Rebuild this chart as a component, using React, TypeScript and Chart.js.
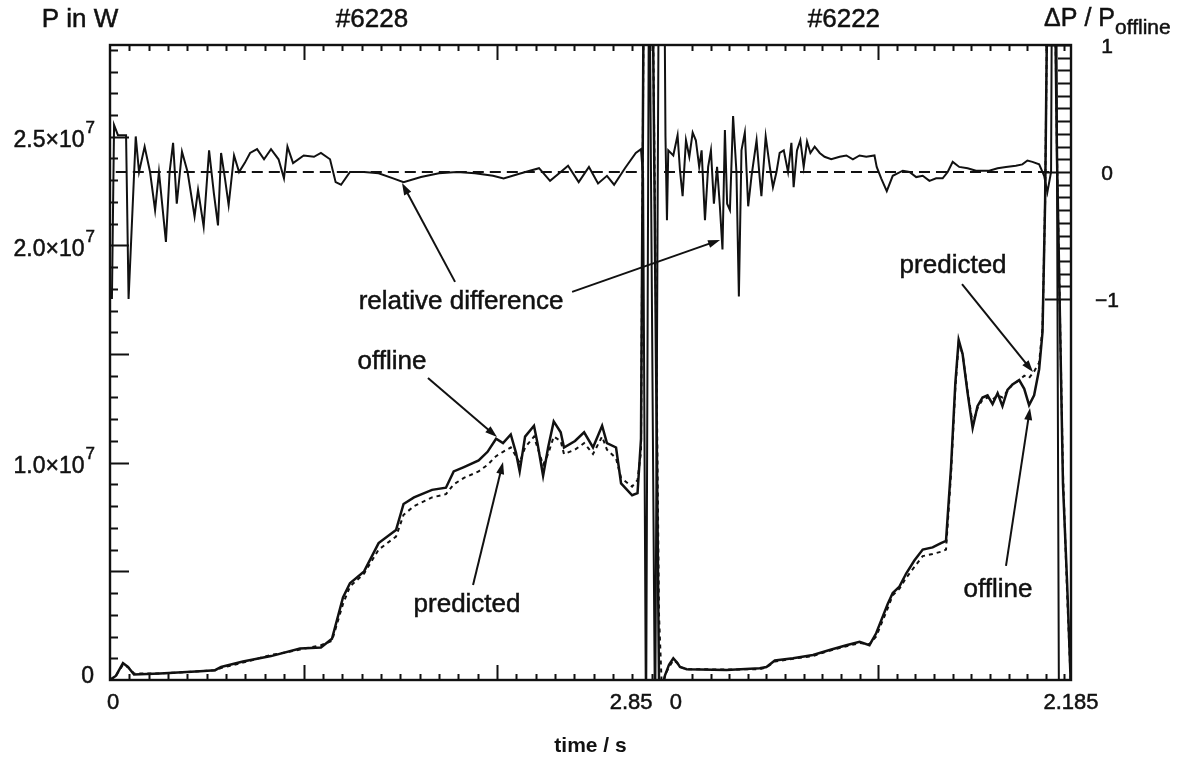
import React, { useEffect, useRef } from "react";
import { Chart, registerables } from "chart.js";

Chart.register(...registerables);

// ---------- data: shot #6228 (left panel), time in s, power in W ----------
const LEFT_TIME = [0, 0.031, 0.067, 0.093, 0.124, 0.258, 0.465, 0.543, 0.574, 0.687, 0.832, 0.982, 1.09, 1.147, 1.204, 1.24, 1.313, 1.388, 1.478, 1.517, 1.571, 1.664, 1.736, 1.776, 1.829, 1.905, 1.951, 1.995, 2.031, 2.071, 2.098, 2.117, 2.145, 2.191, 2.209, 2.238, 2.264, 2.293, 2.329, 2.346, 2.403, 2.45, 2.496, 2.543, 2.568, 2.615, 2.641, 2.698, 2.726, 2.744, 2.76, 2.801, 2.837, 2.85];
const LEFT_OFFLINE = [0, 0.02e7, 0.078e7, 0.06e7, 0.025e7, 0.03e7, 0.04e7, 0.045e7, 0.06e7, 0.085e7, 0.11e7, 0.145e7, 0.15e7, 0.19e7, 0.38e7, 0.445e7, 0.5e7, 0.63e7, 0.69e7, 0.81e7, 0.84e7, 0.875e7, 0.885e7, 0.96e7, 0.98e7, 1.01e7, 1.05e7, 1.11e7, 1.09e7, 1.13e7, 1.045e7, 0.96e7, 1.12e7, 1.17e7, 1.09e7, 0.94e7, 1.07e7, 1.19e7, 1.14e7, 1.07e7, 1.1e7, 1.14e7, 1.07e7, 1.17e7, 1.09e7, 1.07e7, 0.905e7, 0.85e7, 0.86e7, 1.11e7, 3.5e7, 3.5e7, 0, 0];
const LEFT_PREDICTED = [0, 0.02e7, 0.07e7, 0.06e7, 0.03e7, 0.03e7, 0.04e7, 0.045e7, 0.055e7, 0.08e7, 0.115e7, 0.14e7, 0.16e7, 0.18e7, 0.35e7, 0.43e7, 0.49e7, 0.6e7, 0.66e7, 0.76e7, 0.8e7, 0.84e7, 0.855e7, 0.9e7, 0.93e7, 0.96e7, 0.99e7, 1.03e7, 1.05e7, 1.07e7, 1.03e7, 1.0e7, 1.07e7, 1.12e7, 1.07e7, 0.99e7, 1.04e7, 1.12e7, 1.1e7, 1.04e7, 1.06e7, 1.09e7, 1.04e7, 1.12e7, 1.06e7, 1.02e7, 0.93e7, 0.89e7, 0.92e7, 1.05e7, 3.5e7, 3.5e7, 0.3e7, 0];
const LEFT_REL_TIME = [0.01, 0.021, 0.041, 0.083, 0.096, 0.133, 0.15, 0.179, 0.207, 0.233, 0.253, 0.289, 0.308, 0.326, 0.345, 0.372, 0.401, 0.437, 0.455, 0.484, 0.512, 0.537, 0.558, 0.574, 0.594, 0.613, 0.641, 0.667, 0.696, 0.724, 0.76, 0.796, 0.832, 0.871, 0.899, 0.917, 0.946, 1.001, 1.054, 1.09, 1.137, 1.166, 1.194, 1.24, 1.313, 1.388, 1.463, 1.517, 1.607, 1.7, 1.793, 1.886, 1.979, 2.034, 2.124, 2.217, 2.274, 2.329, 2.367, 2.422, 2.475, 2.522, 2.568, 2.605, 2.661, 2.717, 2.744, 2.755, 2.77, 2.786, 2.817, 2.837];
const LEFT_REL_DIFF = [-1.0, 0.37, 0.29, 0.29, -1.0, 0.28, 0, 0.2, 0, -0.3, 0, -0.55, 0, 0.23, -0.25, 0.16, 0, -0.35, -0.14, -0.43, 0.17, -0.17, -0.42, 0.15, -0.05, -0.26, 0.13, 0, 0.07, 0.15, 0.18, 0.1, 0.18, 0.1, -0.05, 0.2, 0.07, 0.13, 0.12, 0.15, 0.1, -0.08, -0.1, 0, 0, -0.01, -0.05, -0.08, -0.04, -0.01, 0, -0.01, -0.03, -0.05, -0.01, 0.03, -0.07, 0, 0.05, -0.08, 0.04, -0.09, -0.03, -0.1, 0.03, 0.15, 0.18, -0.05, -4.5, 2.0, -4.5, 2.0];
const LEFT_ZERO_TIME = [0.03, 2.76];

// ---------- data: shot #6222 (right panel) ----------
const RIGHT_TIME = [0, 0.005, 0.027, 0.05, 0.07, 0.086, 0.122, 0.336, 0.514, 0.55, 0.595, 0.693, 0.8, 0.889, 0.979, 1.05, 1.103, 1.139, 1.201, 1.228, 1.264, 1.3, 1.344, 1.389, 1.442, 1.487, 1.514, 1.541, 1.564, 1.582, 1.603, 1.63, 1.657, 1.683, 1.71, 1.737, 1.764, 1.791, 1.817, 1.844, 1.871, 1.907, 1.934, 1.96, 1.987, 2.014, 2.032, 2.046, 2.062, 2.094, 2.11, 2.142, 2.164, 2.183];
const RIGHT_OFFLINE = [0, 0.02e7, 0.07e7, 0.1e7, 0.08e7, 0.06e7, 0.05e7, 0.046e7, 0.054e7, 0.06e7, 0.09e7, 0.1e7, 0.115e7, 0.138e7, 0.16e7, 0.176e7, 0.16e7, 0.215e7, 0.35e7, 0.4e7, 0.43e7, 0.49e7, 0.55e7, 0.6e7, 0.61e7, 0.63e7, 0.64e7, 0.98e7, 1.365e7, 1.565e7, 1.5e7, 1.32e7, 1.16e7, 1.26e7, 1.3e7, 1.31e7, 1.27e7, 1.32e7, 1.26e7, 1.335e7, 1.36e7, 1.38e7, 1.34e7, 1.265e7, 1.31e7, 1.43e7, 1.6e7, 2.2e7, 3.5e7, 3.5e7, 2.4e7, 0.9e7, 0.45e7, 0];
const RIGHT_PREDICTED = [0, 0.02e7, 0.06e7, 0.09e7, 0.08e7, 0.06e7, 0.05e7, 0.048e7, 0.05e7, 0.058e7, 0.085e7, 0.098e7, 0.11e7, 0.135e7, 0.155e7, 0.17e7, 0.165e7, 0.2e7, 0.33e7, 0.39e7, 0.42e7, 0.47e7, 0.52e7, 0.57e7, 0.58e7, 0.59e7, 0.6e7, 0.95e7, 1.34e7, 1.55e7, 1.5e7, 1.33e7, 1.18e7, 1.25e7, 1.29e7, 1.3e7, 1.29e7, 1.31e7, 1.3e7, 1.33e7, 1.36e7, 1.38e7, 1.4e7, 1.39e7, 1.42e7, 1.46e7, 1.62e7, 2.2e7, 3.5e7, 3.5e7, 2.4e7, 0.95e7, 0.4e7, 0];
const RIGHT_REL_TIME = [0, 0.008, 0.016, 0.023, 0.05, 0.073, 0.086, 0.1, 0.118, 0.136, 0.154, 0.171, 0.189, 0.202, 0.22, 0.237, 0.252, 0.268, 0.285, 0.3, 0.314, 0.327, 0.339, 0.354, 0.371, 0.389, 0.402, 0.416, 0.434, 0.452, 0.47, 0.497, 0.514, 0.523, 0.546, 0.568, 0.585, 0.604, 0.621, 0.643, 0.666, 0.684, 0.696, 0.714, 0.732, 0.75, 0.768, 0.786, 0.809, 0.836, 0.862, 0.898, 0.943, 0.979, 1.014, 1.05, 1.086, 1.13, 1.142, 1.166, 1.196, 1.228, 1.282, 1.318, 1.354, 1.389, 1.425, 1.461, 1.496, 1.523, 1.55, 1.585, 1.63, 1.675, 1.746, 1.791, 1.836, 1.889, 1.924, 1.951, 1.978, 2.014, 2.041, 2.058, 2.078, 2.084, 2.105, 2.121];
const RIGHT_REL_DIFF = [2.0, 0.28, -0.38, 0.17, 0.13, 0.29, 0.01, -0.19, 0.25, 0.12, 0.31, 0.25, 0.04, 0.17, -0.38, 0.04, 0.17, -0.25, 0.04, -0.27, -0.61, 0.33, -0.25, -0.3, 0.44, 0, -0.98, 0.17, 0.31, -0.27, -0.03, 0.25, -0.05, -0.19, 0.28, 0.04, -0.12, 0, 0.15, 0.17, 0, 0.23, -0.12, 0.17, 0.25, 0.04, 0.24, 0.15, 0.2, 0.15, 0.12, 0.1, 0.12, 0.13, 0.1, 0.13, 0.12, 0.13, 0.04, -0.05, -0.15, -0.03, 0.01, 0, -0.04, -0.03, -0.07, -0.05, -0.05, 0, 0.08, 0.04, 0.03, 0.01, 0.01, 0.03, 0.04, 0.05, 0.06, 0.09, 0.08, 0.06, -0.03, -0.16, 0, 2.0, 2.0, -4.5];
const RIGHT_ZERO_TIME = [0.0, 2.08];

// ---------- axes ----------
const P_MAX = 2.922e7;
const REL_MIN = -4;
const REL_MAX = 1;
const LEFT_T_MIN = 0;
const LEFT_T_MAX = 4.966;
const RIGHT_T_MIN = -2.974;
const RIGHT_T_MAX = 2.185;

const P_LABELS = [
  { v: 0, m: "0", e: "" },
  { v: 1.0e7, m: "1.0\u00d710", e: "7" },
  { v: 2.0e7, m: "2.0\u00d710", e: "7" },
  { v: 2.5e7, m: "2.5\u00d710", e: "7" },
];
const REL_LABELS = [
  { v: 1, t: "1" },
  { v: 0, t: "0" },
  { v: -1, t: "\u22121" },
];
const P_TICK_STEP = 1e6;
const P_MAJOR_STEP = 5e6;
const REL_TICK_STEP = 0.1;
const LEFT_TIME_TICKS_START = 0.1;
const LEFT_TIME_TICKS_END = 2.8;
const LEFT_TIME_MAJOR = [1, 2];
const RIGHT_TIME_TICKS_START = 0.15;
const RIGHT_TIME_TICKS_END = 2.15;
const RIGHT_TIME_MAJOR = [1.15];
const TIME_STEP = 0.1;

const ANNOTATION_TEXTS = [
  { text: "relative difference", panel: "L", t: 1.814, p: 1.74e7 },
  { text: "offline", panel: "L", t: 1.457, p: 1.463e7 },
  { text: "predicted", panel: "L", t: 1.845, p: 0.345e7 },
  { text: "predicted", panel: "R", t: 1.552, p: 1.905e7 },
  { text: "offline", panel: "R", t: 1.793, p: 0.414e7 },
];
const ANNOTATION_ARROWS = [
  { fp: "L", ft: 1.783, fv: 1.832e7, tp: "L", tt: 1.509, tv: 2.287e7 },
  { fp: "L", ft: 2.388, fv: 1.786e7, tp: "R", tt: 0.301, tv: 2.025e7 },
  { fp: "L", ft: 1.643, fv: 1.39e7, tp: "L", tt: 2.0, tv: 1.118e7 },
  { fp: "L", ft: 1.876, fv: 0.437e7, tp: "L", tt: 2.031, tv: 1.003e7 },
  { fp: "R", ft: 1.6, fv: 1.822e7, tp: "R", tt: 1.981, tv: 1.417e7 },
  { fp: "R", ft: 1.836, fv: 0.525e7, tp: "R", tt: 1.965, tv: 1.252e7 },
];

const INK = "#111111";
const FONT = '"Liberation Sans", Arial, Helvetica, sans-serif';

function pts(xs: number[], ys: number[]) {
  return xs.map((x, i) => ({ x, y: ys[i] }));
}

function drawArrow(ctx: CanvasRenderingContext2D, x0: number, y0: number, x1: number, y1: number) {
  const ang = Math.atan2(y1 - y0, x1 - x0);
  const len = 12;
  const hw = 4;
  ctx.beginPath();
  ctx.moveTo(x0, y0);
  ctx.lineTo(x1 - Math.cos(ang) * len * 0.5, y1 - Math.sin(ang) * len * 0.5);
  ctx.stroke();
  ctx.beginPath();
  ctx.moveTo(x1, y1);
  ctx.lineTo(x1 - len * Math.cos(ang) + hw * Math.sin(ang), y1 - len * Math.sin(ang) - hw * Math.cos(ang));
  ctx.lineTo(x1 - len * Math.cos(ang) - hw * Math.sin(ang), y1 - len * Math.sin(ang) + hw * Math.cos(ang));
  ctx.closePath();
  ctx.fill();
}

function heavyText(ctx: CanvasRenderingContext2D, s: string, x: number, y: number) {
  ctx.fillText(s, x, y);
  ctx.strokeText(s, x, y);
}

const decorPlugin = {
  id: "decor",
  afterDatasetsDraw(chart: any) {
    const { ctx, chartArea: a, scales } = chart;
    const x1 = scales.x1;
    const x2 = scales.x2;
    const y = scales.y;
    const y2 = scales.y2;
    const px = (panel: string, t: number) => (panel === "L" ? x1 : x2).getPixelForValue(t);
    ctx.save();
    ctx.strokeStyle = INK;
    ctx.fillStyle = INK;
    ctx.lineWidth = 2.4;
    ctx.setLineDash([]);
    ctx.strokeRect(a.left, a.top, a.right - a.left, a.bottom - a.top);

    ctx.lineWidth = 2;
    ctx.beginPath();
    // left axis ticks
    for (let v = P_TICK_STEP; v < P_MAX; v += P_TICK_STEP) {
      const yy = Math.round(y.getPixelForValue(v)) + 0.5;
      const major = Math.abs(v / P_MAJOR_STEP - Math.round(v / P_MAJOR_STEP)) < 1e-6;
      ctx.moveTo(a.left, yy);
      ctx.lineTo(a.left + (major ? 19 : 8), yy);
    }
    // right axis ticks
    for (let k = -10; k <= 10; k++) {
      const v = k * REL_TICK_STEP;
      const yy = Math.round(y2.getPixelForValue(v)) + 0.5;
      const major = k % 10 === 0;
      ctx.moveTo(a.right, yy);
      ctx.lineTo(a.right - (major ? 26 : 13), yy);
    }
    // time ticks
    const timeTicks = (scale: any, start: number, end: number, majors: number[]) => {
      for (let t = start; t <= end + 1e-6; t += TIME_STEP) {
        const xx = Math.round(scale.getPixelForValue(t)) + 0.5;
        const major = majors.some((m) => Math.abs(m - t) < 1e-6);
        const len = major ? 15 : 6;
        ctx.moveTo(xx, a.bottom);
        ctx.lineTo(xx, a.bottom - len);
        ctx.moveTo(xx, a.top);
        ctx.lineTo(xx, a.top + len);
      }
    };
    timeTicks(x1, LEFT_TIME_TICKS_START, LEFT_TIME_TICKS_END, LEFT_TIME_MAJOR);
    timeTicks(x2, RIGHT_TIME_TICKS_START, RIGHT_TIME_TICKS_END, RIGHT_TIME_MAJOR);
    ctx.stroke();

    ctx.lineWidth = 0.5;
    // left tick labels
    ctx.textBaseline = "middle";
    for (const l of P_LABELS) {
      const yy = y.getPixelForValue(l.v);
      const right = a.left - 15;
      ctx.font = `17px ${FONT}`;
      const ew = l.e ? ctx.measureText(l.e).width : 0;
      if (l.e) {
        ctx.textAlign = "right";
        heavyText(ctx, l.e, right, yy - 8);
      }
      ctx.font = `23px ${FONT}`;
      ctx.textAlign = "right";
      heavyText(ctx, l.m, right - ew - 1, l.v === 0 ? yy - 3 : yy + 4);
    }
    // right tick labels
    ctx.font = `21px ${FONT}`;
    ctx.textAlign = "center";
    for (const l of REL_LABELS) {
      heavyText(ctx, l.t, a.right + 36, y2.getPixelForValue(l.v) + 2);
    }
    // bottom tick labels
    ctx.font = `22px ${FONT}`;
    const by = a.bottom + 23;
    ctx.textAlign = "center";
    heavyText(ctx, "0", x1.getPixelForValue(0) + 3, by);
    ctx.textAlign = "right";
    heavyText(ctx, "2.85", x1.getPixelForValue(2.85) - 9, by);
    ctx.textAlign = "center";
    heavyText(ctx, "0", x2.getPixelForValue(0) + 12, by);
    heavyText(ctx, "2.185", x2.getPixelForValue(2.185), by);
    ctx.font = `bold 21px ${FONT}`;
    ctx.fillText("time / s", (a.left + a.right) / 2, a.bottom + 66);

    // titles
    ctx.font = `26px ${FONT}`;
    heavyText(ctx, "P in W", a.left - 30, a.top - 25);
    heavyText(ctx, "#6228", x1.getPixelForValue(1.354), a.top - 25);
    heavyText(ctx, "#6222", x2.getPixelForValue(0.966), a.top - 25);
    ctx.textAlign = "right";
    ctx.font = `25px ${FONT}`;
    const subX = a.right + 44;
    heavyText(ctx, "\u0394P / P", subX, a.top - 26);
    ctx.textAlign = "left";
    ctx.font = `21px ${FONT}`;
    heavyText(ctx, "offline", subX, a.top - 17);

    // annotations
    ctx.font = `26px ${FONT}`;
    ctx.textAlign = "center";
    for (const n of ANNOTATION_TEXTS) {
      heavyText(ctx, n.text, px(n.panel, n.t), y.getPixelForValue(n.p));
    }
    ctx.lineWidth = 2;
    for (const r of ANNOTATION_ARROWS) {
      drawArrow(ctx, px(r.fp, r.ft), y.getPixelForValue(r.fv), px(r.tp, r.tt), y.getPixelForValue(r.tv));
    }
    ctx.restore();
  },
};

export default function App() {
  const ref = useRef<HTMLCanvasElement | null>(null);
  useEffect(() => {
    if (!ref.current) return;
    const line = (extra: any) => ({
      showLine: true,
      pointRadius: 0,
      pointHoverRadius: 0,
      tension: 0,
      borderColor: INK,
      backgroundColor: INK,
      fill: false,
      ...extra,
    });
    const chart = new Chart(ref.current, {
      type: "scatter",
      data: {
        datasets: [
          line({ label: "zero #6228", data: pts(LEFT_ZERO_TIME, [0, 0]), xAxisID: "x1", yAxisID: "y2", borderWidth: 2, borderDash: [11, 6] }),
          line({ label: "zero #6222", data: pts(RIGHT_ZERO_TIME, [0, 0]), xAxisID: "x2", yAxisID: "y2", borderWidth: 2, borderDash: [11, 6] }),
          line({ label: "relative difference #6228", data: pts(LEFT_REL_TIME, LEFT_REL_DIFF), xAxisID: "x1", yAxisID: "y2", borderWidth: 2 }),
          line({ label: "relative difference #6222", data: pts(RIGHT_REL_TIME, RIGHT_REL_DIFF), xAxisID: "x2", yAxisID: "y2", borderWidth: 2 }),
          line({ label: "predicted #6228", data: pts(LEFT_TIME, LEFT_PREDICTED), xAxisID: "x1", yAxisID: "y", borderWidth: 2, borderDash: [4, 4] }),
          line({ label: "predicted #6222", data: pts(RIGHT_TIME, RIGHT_PREDICTED), xAxisID: "x2", yAxisID: "y", borderWidth: 2, borderDash: [4, 4] }),
          line({ label: "offline #6228", data: pts(LEFT_TIME, LEFT_OFFLINE), xAxisID: "x1", yAxisID: "y", borderWidth: 2.5 }),
          line({ label: "offline #6222", data: pts(RIGHT_TIME, RIGHT_OFFLINE), xAxisID: "x2", yAxisID: "y", borderWidth: 2.5 }),
        ],
      },
      options: {
        animation: false,
        responsive: false,
        maintainAspectRatio: false,
        layout: { padding: { left: 110, right: 114, top: 45, bottom: 82 } },
        plugins: { legend: { display: false }, tooltip: { enabled: false }, title: { display: false } },
        events: [],
        scales: {
          x1: { type: "linear", axis: "x", display: false, min: LEFT_T_MIN, max: LEFT_T_MAX },
          x2: { type: "linear", axis: "x", display: false, min: RIGHT_T_MIN, max: RIGHT_T_MAX },
          y: { type: "linear", axis: "y", display: false, min: 0, max: P_MAX },
          y2: { type: "linear", axis: "y", display: false, min: REL_MIN, max: REL_MAX },
        },
      },
      plugins: [decorPlugin],
    } as any);
    return () => chart.destroy();
  }, []);
  return (
    <div style={{ position: "absolute", left: 0, top: 0, width: 1185, height: 762, background: "#fff" }}>
      <canvas ref={ref} width={1185} height={762} style={{ display: "block" }} />
    </div>
  );
}
